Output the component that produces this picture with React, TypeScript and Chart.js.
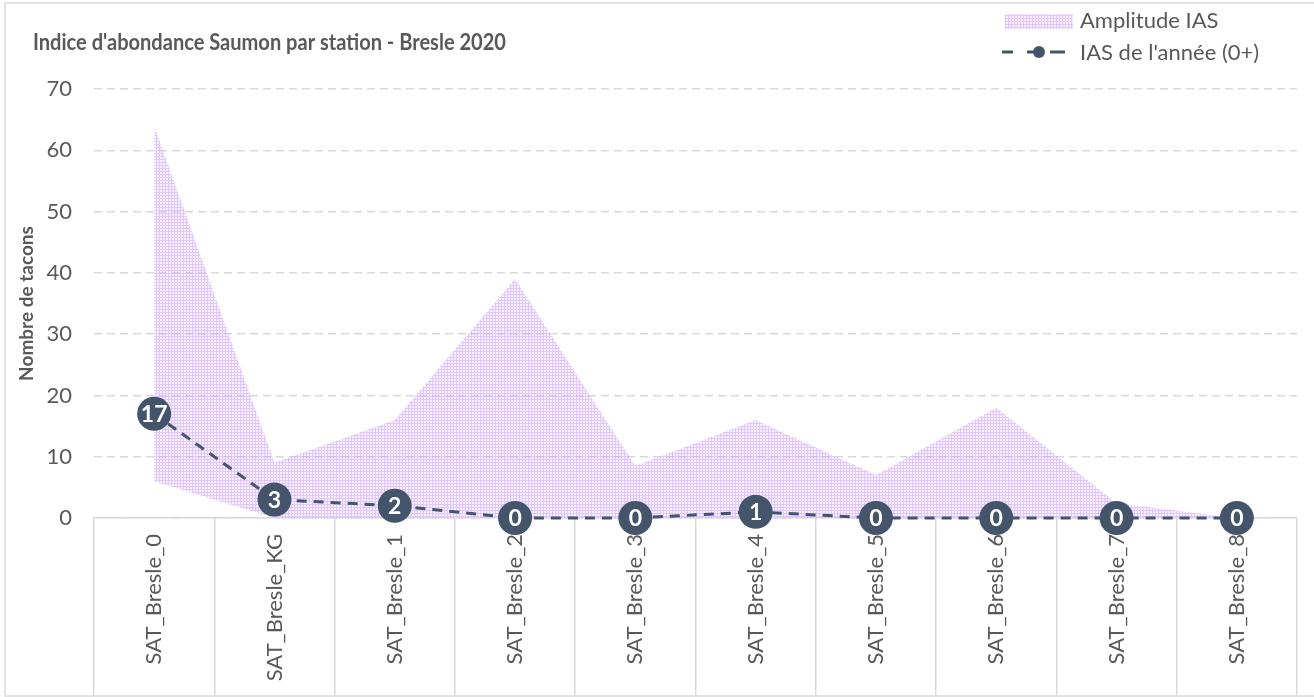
import React, { useEffect, useRef } from 'react';
import { Chart, registerables } from 'chart.js';

Chart.register(...registerables);

const TITLE = "Indice d'abondance Saumon par station - Bresle 2020";
const Y_TITLE = 'Nombre de tacons';
const categories = [
  'SAT_Bresle_0', 'SAT_Bresle_KG', 'SAT_Bresle_1', 'SAT_Bresle_2', 'SAT_Bresle_3',
  'SAT_Bresle_4', 'SAT_Bresle_5', 'SAT_Bresle_6', 'SAT_Bresle_7', 'SAT_Bresle_8',
];
const amplitudeMin = [6, 0, 0, 0, 0, 0, 0, 0, 0, 0];
const amplitudeMax = [64, 9, 16, 39, 8.5, 16, 7, 18, 2.4, 0];
const iasAnnee = [17, 3, 2, 0, 0, 1, 0, 0, 0, 0];
const yMin = 0;
const yMax = 70;
const yStep = 10;

const FONT = "Lato, 'Open Sans', sans-serif";
const TEXT = '#595959';
const GRID = '#D9D9D9';
const LINE = '#44546A';

function makePattern(ctx: CanvasRenderingContext2D) {
  const c = document.createElement('canvas');
  c.width = 3;
  c.height = 3;
  const p = c.getContext('2d')!;
  p.fillStyle = 'rgba(232,212,255,0.35)';
  p.fillRect(0, 0, 3, 3);
  p.fillStyle = 'rgba(200,150,255,0.45)';
  p.fillRect(0, 0, 3, 1);
  p.fillRect(0, 1, 1, 2);
  return ctx.createPattern(c, 'repeat')!;
}

export default function App() {
  const ref = useRef<HTMLCanvasElement>(null);

  useEffect(() => {
    document.body.style.margin = '0';
    const canvas = ref.current!;
    const ctx = canvas.getContext('2d')!;
    const pattern = makePattern(ctx);

    const framePlugin = {
      id: 'frame',
      beforeDraw(chart: any) {
        const c = chart.ctx;
        c.save();
        c.strokeStyle = GRID;
        c.lineWidth = 1.5;
        c.strokeRect(5, 3, chart.width + 20, chart.height - 4);
        c.restore();
      },
      afterDraw(chart: any) {
        const c = chart.ctx;
        c.save();
        // title
        c.fillStyle = TEXT;
        c.font = `bold 23px ${FONT}`;
        c.textBaseline = 'middle';
        c.textAlign = 'left';
        c.fillText(TITLE, 33, 43, 473);
        // legend
        const ds = chart.data.datasets;
        c.font = `22px ${FONT}`;
        c.fillStyle = pattern;
        c.fillRect(1005, 14, 68, 15);
        c.fillStyle = TEXT;
        c.fillText(ds[2].label, 1080, 21);
        c.strokeStyle = LINE;
        c.lineWidth = 3;
        c.beginPath();
        c.moveTo(1002, 52); c.lineTo(1013, 52);
        c.moveTo(1027, 52); c.lineTo(1039, 52);
        c.moveTo(1050, 52); c.lineTo(1065, 52);
        c.stroke();
        c.fillStyle = LINE;
        c.beginPath();
        c.arc(1039, 52, 6, 0, Math.PI * 2);
        c.fill();
        c.fillStyle = TEXT;
        c.fillText(ds[0].label, 1080, 53);
        c.restore();
      },
      afterDatasetsDraw(chart: any) {
        const c = chart.ctx;
        const meta = chart.getDatasetMeta(0);
        const data = chart.data.datasets[0].data;
        c.save();
        c.fillStyle = '#FFFFFF';
        c.font = `bold 23px ${FONT}`;
        c.textAlign = 'center';
        c.textBaseline = 'middle';
        meta.data.forEach((el: any, i: number) => {
          c.fillText(String(data[i]), el.x, el.y + 1);
        });
        c.restore();
      },
    };

    const chart = new Chart(canvas, {
      type: 'line',
      data: {
        labels: categories,
        datasets: [
          {
            label: "IAS de l'année (0+)",
            data: iasAnnee,
            borderColor: LINE,
            borderWidth: 3,
            borderDash: [10, 7],
            pointRadius: 17,
            pointBackgroundColor: LINE,
            pointBorderWidth: 0,
            fill: false,
            tension: 0,
            clip: false,
            order: 0,
          },
          {
            label: 'Amplitude IAS min',
            data: amplitudeMin,
            borderWidth: 0,
            pointRadius: 0,
            fill: false,
            tension: 0,
            order: 1,
          },
          {
            label: 'Amplitude IAS',
            data: amplitudeMax,
            borderWidth: 0,
            pointRadius: 0,
            backgroundColor: pattern as any,
            fill: 1,
            tension: 0,
            order: 2,
          },
        ],
      },
      options: {
        responsive: false,
        animation: false,
        events: [],
        layout: { padding: { top: 89, left: 0, right: 0, bottom: 0 } },
        plugins: {
          legend: { display: false },
          tooltip: { enabled: false },
          title: { display: false },
        },
        scales: {
          x: {
            offset: true,
            grid: {
              offset: true,
              drawOnChartArea: false,
              drawTicks: true,
              tickLength: 178,
              color: GRID,
              lineWidth: 1.5,
            },
            border: { display: true, color: GRID, width: 1.5 },
            ticks: {
              color: TEXT,
              font: { family: FONT, size: 22 },
              minRotation: 90,
              maxRotation: 90,
              padding: -162,
              autoSkip: false,
            },
            afterFit(scale: any) {
              scale.height = 179;
              scale.paddingLeft = 0;
              scale.paddingRight = 0;
            },
          },
          y: {
            min: yMin,
            max: yMax,
            grid: { color: GRID, lineWidth: 1.5, drawTicks: false },
            border: { display: false, dash: [8, 5] },
            ticks: {
              stepSize: yStep,
              color: TEXT,
              padding: 22,
              font: { family: FONT, size: 22 },
            },
            title: {
              display: true,
              text: Y_TITLE,
              color: TEXT,
              font: { family: FONT, size: 19, weight: 'bold' },
              padding: { top: 15, bottom: 0 },
            },
            afterFit(scale: any) {
              scale.width = 94;
              scale.paddingTop = 0;
              scale.paddingBottom = 0;
            },
          },
        },
      },
      plugins: [framePlugin],
    } as any);

    return () => chart.destroy();
  }, []);

  return (
    <div style={{ width: 1314, height: 697 }}>
      <canvas ref={ref} width={1314} height={697} style={{ display: 'block' }} />
    </div>
  );
}
